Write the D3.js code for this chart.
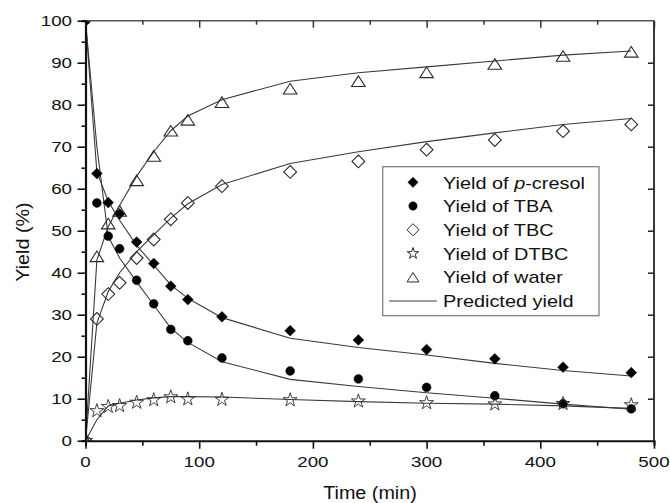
<!DOCTYPE html>
<html>
<head>
<meta charset="utf-8">
<script src="https://cdn.jsdelivr.net/npm/d3@7"></script>
<style>
  body { margin: 0; background: #fff; }
  svg { display: block; }
  text { font-family: "Liberation Sans", Arial, sans-serif; fill: #111; }
</style>
</head>
<body>
<div id="graph"></div>
<script>
// sampling times (min)
const times = [0, 10, 20, 30, 45, 60, 75, 90, 120, 180, 240, 300, 360, 420, 480];

// measured yields (%)
const cresolObs = [100, 63.6, 56.7, 54.0, 47.3, 42.2, 36.8, 33.6, 29.5, 26.2, 24.0, 21.7, 19.5, 17.5, 16.2];
const tbaObs = [100, 56.6, 48.7, 45.7, 38.2, 32.6, 26.5, 23.8, 19.7, 16.6, 14.7, 12.7, 10.7, 8.8, 7.6];
const tbcObs = [0, 29.0, 34.9, 37.6, 43.5, 47.9, 52.7, 56.6, 60.6, 64.0, 66.5, 69.3, 71.6, 73.7, 75.3];
const dtbcObs = [0, 7.1, 8.1, 8.3, 9.1, 9.7, 10.4, 9.9, 9.8, 9.7, 9.4, 9.0, 8.7, 8.8, 8.5];
const waterObs = [0, 43.9, 51.7, 54.7, 62.0, 67.8, 73.8, 76.4, 80.6, 83.8, 85.6, 87.7, 89.7, 91.6, 92.6];

// predicted yields (%)
const cresolFit = [100, 64, 57, 52.5, 46.5, 41.8, 37.1, 33.9, 29.3, 24.4, 22.2, 20.4, 18.4, 16.7, 15.4];
const tbaFit = [100, 70, 48.6, 43.5, 37.8, 32.3, 26.8, 23.4, 18.8, 14.6, 12.9, 11.4, 10.1, 8.7, 7.5];
const tbcFit = [0, 28, 35.5, 40, 45, 49, 53, 56.4, 61, 66, 68.8, 71.2, 73.3, 75.3, 76.7];
const dtbcFit = [0, 5.0, 8.3, 8.9, 9.7, 10.2, 10.5, 10.5, 10.4, 9.8, 9.3, 8.9, 8.7, 8.3, 7.7];
const waterFit = [0, 43, 51, 56, 63, 68.8, 73.8, 77.3, 81.2, 85.6, 87.6, 89.0, 90.4, 91.8, 92.8];

const legendLabels = ['Yield of |p|-cresol', 'Yield of TBA', 'Yield of TBC', 'Yield of DTBC', 'Yield of water', 'Predicted yield'];
const xTicks = [0, 100, 200, 300, 400, 500];
const yTicks = [0, 10, 20, 30, 40, 50, 60, 70, 80, 90, 100];

let w = 670, h = 503;
let svg = d3.select('#graph').append('svg').attr('width', w).attr('height', h);

let x = d3.scaleLinear().domain([0, 500]).range([85.5, 654]);
let y = d3.scaleLinear().domain([0, 100]).range([440.7, 20.7]);

// clip marks to the plot box like the original
svg.append('defs').append('clipPath').attr('id', 'plot')
    .append('rect').attr('x', x(0)).attr('y', y(100))
    .attr('width', x(500) - x(0)).attr('height', y(0) - y(100));

// stretched text helper, the source font runs wider than Arial
function label(g, tx, ty, str, size, anchor, sx, rot) {
    let t = g.append('text')
        .attr('transform', `translate(${tx},${ty})` + (rot ? ` rotate(${rot})` : '') + ` scale(${sx},1)`)
        .attr('font-size', size)
        .attr('text-anchor', anchor);
    let parts = str.split('|');
    parts.forEach((p, i) => {
        let s = t.append('tspan').text(p);
        if (i % 2 === 1) s.attr('font-style', 'italic');
    });
    return t;
}

// marker shapes
let shapes = {
    fdiamond: r => `M0,${-r}L${r},0L0,${r}L${-r},0Z`,
    odiamond: r => `M0,${-r}L${r},0L0,${r}L${-r},0Z`,
    circle: r => d3.symbol(d3.symbolCircle, Math.PI * r * r)(),
    star: r => d3.symbol(d3.symbolStar, r * r * 2.2)(),
    triangle: r => `M0,${-r * 0.78}L${r},${r * 0.78}L${-r},${r * 0.78}Z`
};

let series = [
    { obs: cresolObs, fit: cresolFit, shape: 'fdiamond', r: 5.4, filled: true },
    { obs: tbaObs, fit: tbaFit, shape: 'circle', r: 4.4, filled: true },
    { obs: tbcObs, fit: tbcFit, shape: 'odiamond', r: 6.4, filled: false },
    { obs: dtbcObs, fit: dtbcFit, shape: 'star', r: 5.2, filled: false },
    { obs: waterObs, fit: waterFit, shape: 'triangle', r: 6.8, filled: false }
];

let line = d3.line()
    .x((d, i) => x(times[i]))
    .y(d => y(d));

let plot = svg.append('g').attr('clip-path', 'url(#plot)');

// predicted lines
series.forEach(s => {
    plot.append('path')
        .datum(s.fit)
        .attr('d', line)
        .attr('fill', 'none')
        .attr('stroke', '#3a3a3a')
        .attr('stroke-width', 1.1);
});

// measured points
series.forEach(s => {
    plot.append('g').selectAll('path')
        .data(s.obs)
        .enter().append('path')
        .attr('transform', (d, i) => `translate(${x(times[i])},${y(d)})`)
        .attr('d', shapes[s.shape](s.r))
        .attr('fill', s.filled ? '#000' : '#fff')
        .attr('fill-opacity', s.filled ? 1 : 0)
        .attr('stroke', s.filled ? '#000' : '#2a2a2a')
        .attr('stroke-width', s.filled ? 0.5 : (s.shape === 'star' ? 0.9 : 1.1));
});

// frame
svg.append('line').attr('x1', x(0)).attr('x2', x(500)).attr('y1', y(100)).attr('y2', y(100))
    .attr('stroke', '#555').attr('stroke-width', 1.6);
svg.append('line').attr('x1', x(500)).attr('x2', x(500)).attr('y1', y(100)).attr('y2', y(0))
    .attr('stroke', '#222').attr('stroke-width', 1.8);

// bottom axis, outward ticks
let axB = d3.axisBottom(x).tickValues(d3.range(0, 501, 50)).tickSize(5).tickFormat('');
let gB = svg.append('g').attr('transform', `translate(0,${y(0)})`).call(axB);
gB.selectAll('.tick line').filter(d => d % 100 === 0).attr('y2', 8);
gB.select('.domain').attr('stroke-width', 2).attr('stroke', '#111');
gB.selectAll('.tick line').attr('stroke-width', 1.6).attr('stroke', '#111');

// top axis, inward ticks
let axT = d3.axisBottom(x).tickValues(d3.range(0, 501, 50)).tickSize(4).tickFormat('').tickSizeOuter(0);
let gT = svg.append('g').attr('transform', `translate(0,${y(100)})`).call(axT);
gT.select('.domain').remove();
gT.selectAll('.tick line').filter(d => d % 100 === 0).attr('y2', 7);
gT.selectAll('.tick line').attr('stroke-width', 1.5).attr('stroke', '#333');

// left axis, outward ticks
let axL = d3.axisLeft(y).tickValues(d3.range(0, 101, 5)).tickSize(4).tickFormat('');
let gL = svg.append('g').attr('transform', `translate(${x(0)},0)`).call(axL);
gL.selectAll('.tick line').filter(d => d % 10 === 0).attr('x2', -8);
gL.select('.domain').attr('stroke-width', 2.2).attr('stroke', '#111');
gL.selectAll('.tick line').attr('stroke-width', 1.6).attr('stroke', '#111');

// right axis, inward ticks
let axR = d3.axisRight(y).tickValues(d3.range(10, 100, 10)).tickSize(-6).tickFormat('');
let gR = svg.append('g').attr('transform', `translate(${x(500)},0)`).call(axR);
gR.select('.domain').remove();
gR.selectAll('.tick line').attr('stroke-width', 1.5).attr('stroke', '#222');

// tick labels
let labels = svg.append('g');
xTicks.forEach(v => label(labels, x(v), 467, String(v), 15, 'middle', 1.25));
yTicks.forEach(v => label(labels, 72, y(v) + 5.4, String(v), 15, 'end', 1.25));

// axis titles
label(labels, 370, 499, 'Time (min)', 17.5, 'middle', 1.13);
label(labels, 29, 242, 'Yield (%)', 17.5, 'middle', 1.13, -90);

// legend
let lg = svg.append('g');
lg.append('rect').attr('x', 382.7).attr('y', 166.7).attr('width', 216.3).attr('height', 149)
    .attr('fill', '#fff').attr('stroke', '#777').attr('stroke-width', 1.2);
let rowY = d3.scaleLinear().domain([0, 5]).range([182.3, 301]);
legendLabels.forEach((txt, i) => {
    let cy = rowY(i);
    if (i < series.length) {
        let s = series[i];
        let rr = s.shape === 'star' ? 4.3 : (s.shape === 'triangle' ? 6 : s.r * 0.95);
        lg.append('path')
            .attr('transform', `translate(413,${cy})`)
            .attr('d', shapes[s.shape](rr))
            .attr('fill', s.filled ? '#000' : 'none')
            .attr('stroke', s.filled ? '#000' : '#2a2a2a')
            .attr('stroke-width', s.filled ? 0.5 : 1);
    } else {
        lg.append('line').attr('x1', 389).attr('x2', 437).attr('y1', cy).attr('y2', cy)
            .attr('stroke', '#3a3a3a').attr('stroke-width', 1.1);
    }
    label(lg, 443, cy + 6.2, txt, 17, 'start', 1.17);
});
</script>
</body>
</html>
